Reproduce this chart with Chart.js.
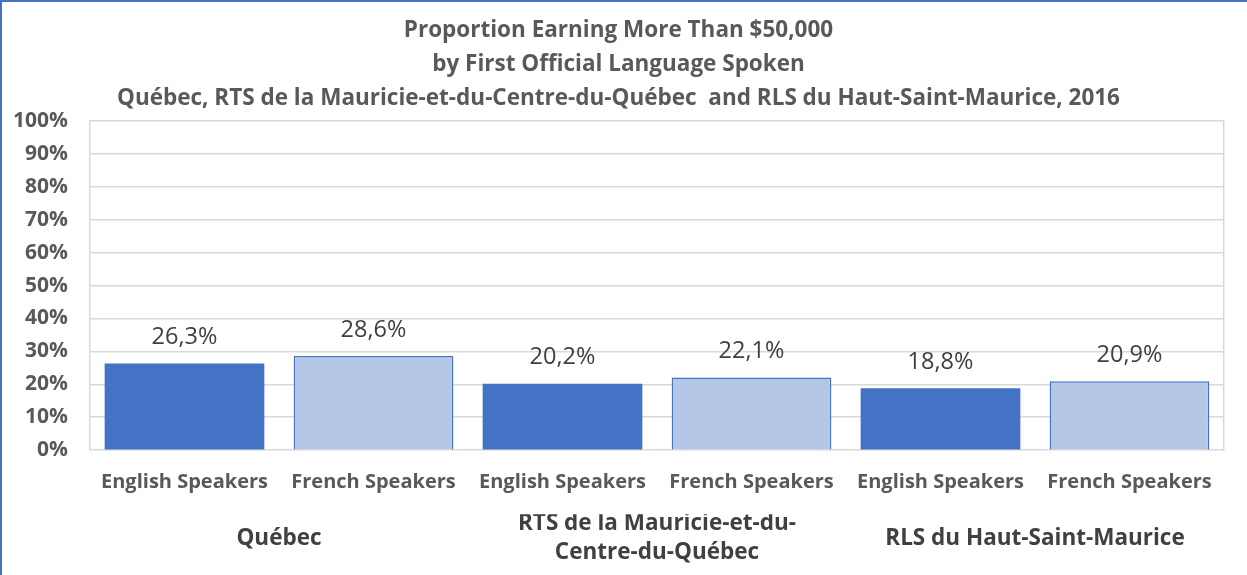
<!DOCTYPE html>
<html>
<head>
<meta charset="utf-8">
<script src="https://cdn.jsdelivr.net/npm/chart.js@4.4.1/dist/chart.umd.min.js"></script>
<style>
  html, body { margin: 0; padding: 0; background: #fff; overflow: hidden; }
  #frame { width: 1247px; height: 575px; box-sizing: border-box; border-left: 2px solid #4472C4; border-top: 2px solid #4472C4; }
  canvas { display: block; }
</style>
</head>
<body>
<div id="frame"><canvas id="chart" width="1245" height="573"></canvas></div>
<script>
// Datos
const speakers = ['English Speakers', 'French Speakers', 'English Speakers', 'French Speakers', 'English Speakers', 'French Speakers'];
const regions = ['Québec', ['RTS de la Mauricie-et-du-', 'Centre-du-Québec'], 'RLS du Haut-Saint-Maurice'];
const values = [26.3, 28.6, 20.2, 22.1, 18.8, 20.9];
const yTicks = [0, 10, 20, 30, 40, 50, 60, 70, 80, 90, 100];
const titleLines = [
  'Proportion Earning More Than $50,000',
  'by First Official Language Spoken',
  'Québec, RTS de la Mauricie-et-du-Centre-du-Québec  and RLS du Haut-Saint-Maurice, 2016'
];

const FONT = '"Open Sans", sans-serif';
const DARK_BLUE = '#4472C4';
const LIGHT_BLUE = '#B4C7E7';
const GRID = '#d9d9d9';

// Etiquetas de valor encima de cada barra (formato con coma decimal)
const valueLabels = {
  id: 'valueLabels',
  afterDatasetsDraw(chart) {
    const ctx = chart.ctx;
    const meta = chart.getDatasetMeta(0);
    ctx.save();
    ctx.font = '23.5px ' + FONT;
    ctx.fillStyle = '#404040';
    ctx.textAlign = 'center';
    ctx.textBaseline = 'middle';
    meta.data.forEach((bar, i) => {
      ctx.fillText(values[i].toFixed(1).replace('.', ',') + '%', bar.x, bar.y - 26);
    });
    ctx.restore();
  }
};

// Quitar el relleno lateral que Chart.js reserva para las etiquetas del eje X
function noSidePadding(axis) { axis.paddingLeft = 0; axis.paddingRight = 0; }

new Chart(document.getElementById('chart'), {
  type: 'bar',
  data: {
    labels: speakers,
    datasets: [{
      data: values,
      backgroundColor: values.map((v, i) => i % 2 === 0 ? DARK_BLUE : LIGHT_BLUE),
      borderColor: DARK_BLUE,
      borderWidth: values.map((v, i) => i % 2 === 0 ? 0 : 1.5),
      categoryPercentage: 1,
      barPercentage: 0.845
    }]
  },
  options: {
    responsive: false,
    animation: false,
    // el eje de regiones (2 líneas) reserva espacio de más abajo; se compensa aquí
    layout: { padding: { left: 11, right: 23, bottom: -17, top: 0 } },
    plugins: {
      legend: { display: false },
      tooltip: { enabled: false },
      title: {
        display: true,
        text: titleLines,
        color: '#595959',
        font: { family: FONT, size: 22.5, weight: 'bold', lineHeight: 1.51 },
        padding: { top: 12, bottom: 5 }
      }
    },
    scales: {
      x: {
        weight: 0,
        afterFit: noSidePadding,
        grid: { display: false, drawTicks: false },
        border: { display: false },
        ticks: { color: '#595959', padding: 20, maxRotation: 0, autoSkip: false, font: { family: FONT, size: 20, weight: 'bold' } }
      },
      x2: {
        type: 'category',
        position: 'bottom',
        weight: 1,
        labels: regions,
        offset: true,
        afterFit: noSidePadding,
        grid: { display: false, drawTicks: false },
        border: { display: false },
        ticks: { color: '#404040', padding: 9, maxRotation: 0, autoSkip: false, crossAlign: 'center', font: { family: FONT, size: 22.5, weight: 'bold', lineHeight: 1.33 } }
      },
      y: {
        min: 0,
        max: 100,
        afterBuildTicks: (axis) => { axis.ticks = yTicks.map(v => ({ value: v })); },
        afterFit: (axis) => { axis.width = 77; },
        grid: { color: GRID, lineWidth: 1.5, drawTicks: false },
        border: { display: true, color: GRID, width: 1.5 },
        ticks: { color: '#595959', padding: 22, autoSkip: false, callback: v => v + '%', font: { family: FONT, size: 21, weight: 'bold' } }
      },
      yRight: {
        position: 'right',
        min: 0,
        max: 100,
        grid: { display: false, drawTicks: false },
        border: { display: true, color: GRID, width: 1.5 },
        ticks: { display: false }
      }
    }
  },
  plugins: [valueLabels]
});
</script>
</body>
</html>
